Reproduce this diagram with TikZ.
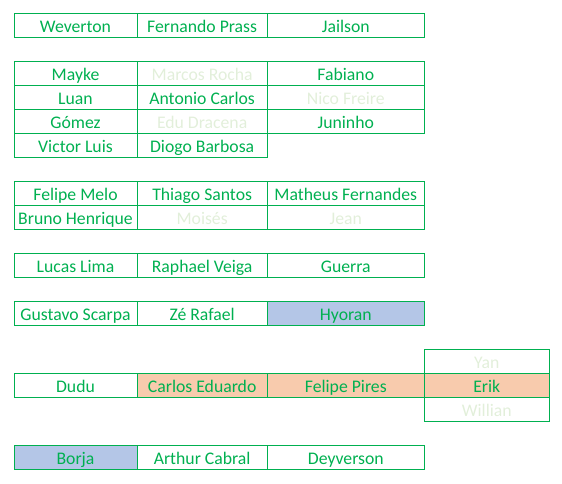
\documentclass[tikz,border=0pt]{standalone}
\usepackage{fontspec}
\setmainfont{Carlito}
\definecolor{xlgreen}{HTML}{00B050}
\definecolor{faint}{HTML}{E2EFDA}
\definecolor{xlblue}{HTML}{B4C6E7}
\definecolor{xlorange}{HTML}{F8CBAD}
\tikzset{
  cell/.style={draw=xlgreen, line width=1pt, inner sep=0pt, minimum height=24pt,
    text height=15.4pt, text depth=0.4pt, text=xlgreen,
    font=\fontsize{17.7}{20}\selectfont},
  ca/.style={cell, minimum width=123pt},
  cb/.style={cell, minimum width=130.3pt},
  cc/.style={cell, minimum width=157pt},
  cd/.style={cell, minimum width=125pt},
  dim/.style={text=faint},
  blu/.style={fill=xlblue},
  org/.style={fill=xlorange}
}
\begin{document}
\begin{tikzpicture}[x=1pt,y=-1pt]
\useasboundingbox (0,0) rectangle (562,484);
% x centres: 75.5, 202.15, 345.8, 486.8 ; y centres 25.3+24r
% group 1
\node[ca] (a0) at (75.5,25.3) {Weverton};
\node[cb] (b0) at (202.15,25.3) {Fernando Prass};
\node[cc] (c0) at (345.8,25.3) {Jailson};
% group 2
\node[ca] (a2) at (75.5,73.3) {Mayke};
\node[cb,dim] (b2) at (202.15,73.3) {Marcos Rocha};
\node[cc] (c2) at (345.8,73.3) {Fabiano};
\node[ca] (a3) at (75.5,97.3) {Luan};
\node[cb] (b3) at (202.15,97.3) {Antonio Carlos};
\node[cc,dim] (c3) at (345.8,97.3) {Nico Freire};
\node[ca] (a4) at (75.5,121.3) {Gómez};
\node[cb,dim] (b4) at (202.15,121.3) {Edu Dracena};
\node[cc] (c4) at (345.8,121.3) {Juninho};
\node[ca] (a5) at (75.5,145.3) {Victor Luis};
\node[cb] (b5) at (202.15,145.3) {Diogo Barbosa};
% group 3
\node[ca] (a7) at (75.5,193.3) {Felipe Melo};
\node[cb] (b7) at (202.15,193.3) {Thiago Santos};
\node[cc] (c7) at (345.8,193.3) {Matheus Fernandes};
\node[ca] (a8) at (75.5,217.3) {Bruno Henrique};
\node[cb,dim] (b8) at (202.15,217.3) {Moisés};
\node[cc,dim] (c8) at (345.8,217.3) {Jean};
% group 4
\node[ca] (a10) at (75.5,265.3) {Lucas Lima};
\node[cb] (b10) at (202.15,265.3) {Raphael Veiga};
\node[cc] (c10) at (345.8,265.3) {Guerra};
% group 5
\node[ca] (a12) at (75.5,313.3) {Gustavo Scarpa};
\node[cb] (b12) at (202.15,313.3) {Zé Rafael};
\node[cc,blu] (c12) at (345.8,313.3) {Hyoran};
% group 6
\node[cd,dim] (d14) at (486.8,361.3) {Yan};
\node[cd,dim] (d16) at (486.8,409.3) {Willian};
\node[ca] (a15) at (75.5,385.3) {Dudu};
\node[cb,org] (b15) at (202.15,385.3) {Carlos Eduardo};
\node[cc,org] (c15) at (345.8,385.3) {Felipe Pires};
\node[cd,org] (d15) at (486.8,385.3) {Erik};
% group 7
\node[ca,blu] (a18) at (75.5,457.3) {Borja};
\node[cb] (b18) at (202.15,457.3) {Arthur Cabral};
\node[cc] (c18) at (345.8,457.3) {Deyverson};
\end{tikzpicture}
\end{document}
